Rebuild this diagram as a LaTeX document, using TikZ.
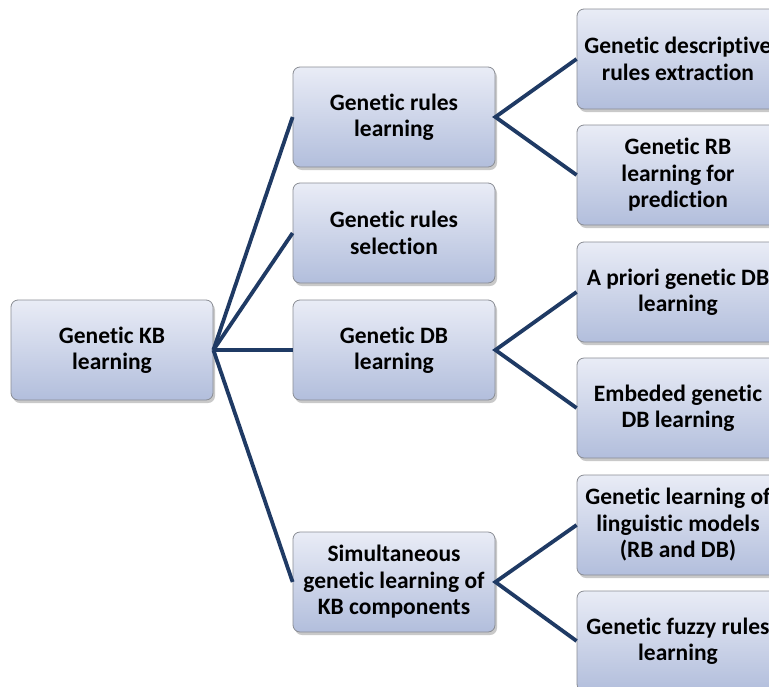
\documentclass[tikz,border=0pt]{standalone}
\usepackage{fontspec}
\setmainfont[Ligatures=NoCommon]{Carlito}
\usetikzlibrary{shadows}
\definecolor{boxtop}{HTML}{E9ECF6}
\definecolor{boxbot}{HTML}{B2BEDC}
\definecolor{boxline}{HTML}{8A8D94}
\definecolor{link}{HTML}{1F3A64}
\tikzset{
  kbox/.style={draw=boxline, line width=0.8pt, rounded corners=7pt,
    top color=boxtop, bottom color=boxbot, minimum width=202pt, minimum height=100pt,
    inner sep=1pt, align=center, font=\fontsize{23.5}{26.5}\selectfont\bfseries,
    drop shadow={shadow xshift=2pt, shadow yshift=-3pt, opacity=0.35, fill=black!60}},
  conn/.style={draw=link, line width=3.8pt}
}
\begin{document}
\begin{tikzpicture}[x=1pt,y=-1pt]
\useasboundingbox (0,0) rectangle (769,686);
\clip (0,0) rectangle (769,686);
\fill[white] (0,0) rectangle (769,686);
% root
\node[kbox] (root) at (112,350) {Genetic KB\\learning};
% middle
\node[kbox] (m1) at (394,117) {Genetic rules\\learning};
\node[kbox] (m2) at (394,233) {Genetic rules\\selection};
\node[kbox] (m3) at (394,350) {Genetic DB\\learning};
\node[kbox] (m4) at (394,582) {Simultaneous\\genetic learning of\\KB components};
% right
\node[kbox] (r1) at (678,59) {Genetic descriptive\\rules extraction};
\node[kbox] (r2) at (678,175) {Genetic RB\\learning for\\prediction};
\node[kbox] (r3) at (678,292) {A priori genetic DB\\learning};
\node[kbox] (r4) at (678,408) {Embeded genetic\\DB learning};
\node[kbox] (r5) at (678,525) {Genetic learning of\\linguistic models\\(RB and DB)};
\node[kbox] (r6) at (678,641) {Genetic fuzzy rules\\learning};
% connectors
\foreach \m in {m1,m2,m3,m4}{
  \draw[conn] (root.east) -- (\m.west);
}
\draw[conn] (r1.west) -- (m1.east) -- (r2.west);
\draw[conn] (r3.west) -- (m3.east) -- (r4.west);
\draw[conn] (r5.west) -- (m4.east) -- (r6.west);
\end{tikzpicture}
\end{document}
